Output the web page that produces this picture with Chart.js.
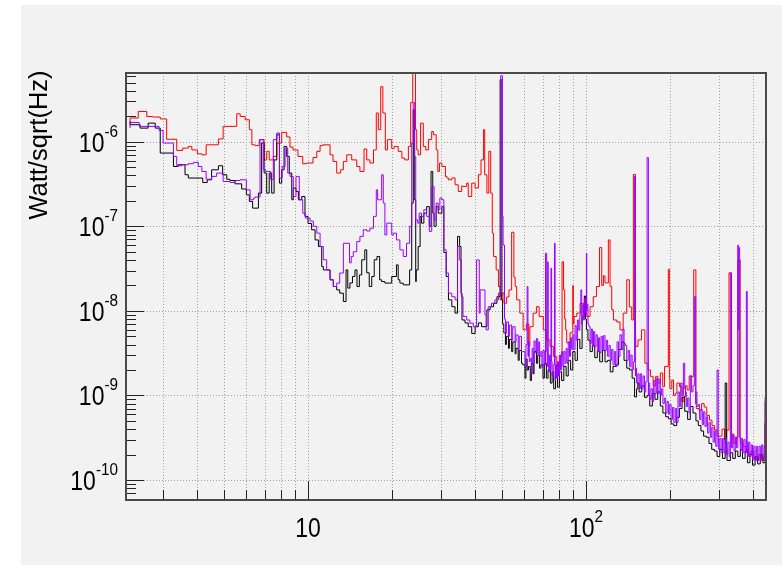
<!DOCTYPE html>
<html>
<head>
<meta charset="utf-8">
<script src="https://cdn.jsdelivr.net/npm/chart.js@4.4.1/dist/chart.umd.min.js"></script>
<style>
  html, body { margin: 0; padding: 0; background: #fff; }
  #wrap { position: relative; width: 782px; height: 570px; }
  #pad { position: absolute; left: 21px; top: 5px; width: 761px; height: 560px; background: #f2f2f2; }
  #spec { position: absolute; left: 0; top: 0; }
</style>
</head>
<body>
<div id="wrap">
  <div id="pad"></div>
  <canvas id="spec" width="782" height="570"></canvas>
</div>
<script>
// Spectra: [frequency (Hz), amplitude (Watt/sqrt(Hz))], read per bin group
const redPts = [
  [2.29,1.66e-6],[2.45,1.91e-6],[2.63,2.28e-6],[2.76,1.99e-6],[2.94,1.96e-6],[3.10,1.86e-6],[3.37,1.07e-6],[3.54,7.9e-7],
  [3.71,8.4e-7],[3.82,8.8e-7],[4.00,8.0e-7],[4.15,7.2e-7],[4.30,7.0e-7],[4.76,9.2e-7],[4.95,1.08e-6],[5.54,1.52e-6],
  [5.70,2.14e-6],[5.94,1.99e-6],[6.15,1.82e-6],[6.28,1.39e-6],[6.45,9.2e-7],[6.68,9.0e-7],[6.95,1.06e-6],[7.10,6.1e-7],
  [7.25,7.7e-7],[7.50,6.1e-7],[7.72,6.7e-7],[8.04,9.65e-7],[8.38,1.29e-6],[8.61,1.14e-6],[8.83,8.65e-7],[9.20,8.0e-7],
  [9.57,6.7e-7],[9.89,5.5e-7],[10.17,5.6e-7],[10.42,5.6e-7],[10.75,6.5e-7],[11.05,7.7e-7],[11.32,9.0e-7],[12.0,9.2e-7],
  [12.3,7.0e-7],[12.68,5.85e-7],[13.1,4.26e-7],[13.4,4.66e-7],[13.78,5.85e-7],[14.36,7.0e-7],[14.97,6.1e-7],[15.37,5.1e-7],
  [15.9,4.45e-7],[16.26,8.2e-7],[16.7,6.1e-7],[17.2,5.6e-7],[17.6,8.0e-7],[17.9,2.19e-6],[18.26,1.39e-6],[18.58,4.48e-6],
  [18.97,2.19e-6],[19.3,8.0e-7],[20.0,1.06e-6],[20.4,8.3e-7],[21.1,8.8e-7],[21.75,7.7e-7],[22.3,6.4e-7],[22.96,6.1e-7],
  [23.4,8.8e-7],[23.8,2.9e-6],[23.95,8.0e-6],[24.35,8.0e-6],[24.6,1.39e-6],[24.9,8.0e-7],[25.4,7.0e-7],[25.98,1.66e-6],
  [26.5,8.8e-7],[27.1,8.0e-7],[27.85,1.06e-6],[28.25,1.32e-6],[28.9,1.21e-6],[29.3,8.0e-7],[29.7,4.45e-7],[30.3,5.6e-7],
  [31.2,5.1e-7],[31.6,3.89e-7],[32.0,3.72e-7],[32.9,3.55e-7],[33.8,3.74e-7],[34.7,3.1e-7],[35.7,2.58e-7],[36.1,3.0e-7],
  [37.2,2.96e-7],[37.7,3.24e-7],[38.8,2.25e-7],[39.9,3.24e-7],[41.0,2.83e-7],[41.9,4.07e-7],[42.8,6.1e-7],[43.2,1.39e-6],
  [44.0,4.07e-7],[44.7,2.47e-7],[45.4,7.7e-7],[46.0,2.47e-7],[46.5,8.3e-8],[47.5,4.4e-8],[48.4,3.05e-8],[49.1,1.94e-8],
  [49.8,1.35e-8],[50.7,1.62e-8],[51.8,1.23e-8],[52.8,1.46e-8],[54.0,1.77e-8],[55.0,8.5e-8],[55.6,2.5e-8],[56.3,1.94e-8],
  [57.8,1.35e-8],[59.4,9.4e-9],[61.0,5.96e-9],[62.2,7.0e-9],[62.8,3.8e-9],[64.5,6.5e-9],[66.3,9.4e-9],[67.8,1.12e-8],
  [70.2,8.6e-9],[72.2,5.96e-9],[74.2,4.54e-9],[76.3,3.8e-9],[78.5,2.9e-9],[80.6,2.2e-9],[82.0,2.9e-9],[83.0,3.8e-8],
  [83.8,1.77e-8],[84.5,8.0e-9],[85.2,5.96e-9],[87.6,4.2e-9],[89.6,5.5e-9],[90.0,2.0e-8],[90.6,7.0e-9],[92.6,8.6e-9],
  [95.2,9.4e-9],[97.8,1.23e-8],[100.6,9.4e-9],[103.4,8.6e-9],[106.2,1.12e-8],[109.0,1.47e-8],[111.8,1.94e-8],[113.9,5.6e-8],
  [115.5,2.0e-8],[117.0,2.6e-8],[120.3,2.14e-8],[122.0,6.9e-8],[123.7,1.94e-8],[125.5,1.03e-8],[128.9,7.8e-9],[132.5,7.4e-9],
  [136.0,5.96e-9],[140.1,9.4e-9],[143.2,2.33e-8],[146.0,1.11e-8],[148.0,7.8e-9],[150.5,4.1e-7],[150.9,5.0e-9],[153.8,3.8e-9],
  [158.3,4.54e-9],[162.8,5.96e-9],[167.2,2.4e-9],[170.5,2.0e-9],[174.3,1.68e-9],[178.0,1.3e-9],[181.4,1.68e-9],[185.0,1.4e-9],
  [188.7,1.84e-9],[191.6,1.27e-9],[197.7,2.2e-9],[199.4,3.1e-8],[200.2,1.6e-9],[203.5,1.2e-9],[206.4,1.52e-9],[209.5,1.0e-9],
  [212.3,1.06e-9],[217.0,1.4e-9],[221.6,1.27e-9],[225.0,8.5e-10],[227.9,9.7e-10],[231.0,1.3e-9],[235.0,1.16e-9],[240.0,1.7e-9],
  [244.0,1.68e-9],[248.4,3.05e-8],[249.2,8.85e-10],[255.0,7.0e-10],[260.5,6.7e-10],[266.0,8.0e-10],[271.8,7.3e-10],[278.0,5.8e-10],
  [283.8,5.1e-10],[290.0,4.4e-10],[296.0,3.9e-10],[302.0,3.3e-10],[308.5,3.3e-10],[315.0,4.0e-10],[320.0,3.0e-10],[326.8,3.9e-10],
  [333.8,2.82e-8],[334.6,2.97e-10],[340.0,3.5e-10],[346.0,2.7e-10],[352.0,3.2e-10],[358.5,4.0e-8],[359.5,2.8e-10],[367.0,2.74e-10],
  [375.0,2.5e-10],[384.0,2.3e-10],[393.0,2.07e-10],[402.0,2.2e-10],[410.0,1.8e-10],[418.0,1.73e-10],[426.0,2.0e-10],[434.0,1.87e-10],
  [440.0,1.7e-10],[443.0,4.7e-10],[444.5,4.7e-10]
];

const purplePts = [
  [2.29,1.45e-6],[2.47,1.69e-6],[2.91,1.52e-6],[3.01,1.36e-6],[3.28,9.65e-7],[3.37,6.7e-7],[3.52,5.2e-7],[3.71,5.35e-7],
  [3.87,5.5e-7],[4.03,5.7e-7],[4.15,5.1e-7],[4.30,4.45e-7],[4.50,3.6e-7],[4.69,3.89e-7],[4.95,4.26e-7],[5.24,3.39e-7],
  [5.46,3.3e-7],[5.70,3.48e-7],[6.0,3.55e-7],[6.19,2.7e-7],[6.37,2.06e-7],[6.45,2.16e-7],[6.72,2.22e-7],[6.90,1.06e-6],
  [7.04,4.66e-7],[7.34,4.45e-7],[7.5,3.55e-7],[7.72,1.06e-6],[7.89,1.27e-6],[8.07,3.72e-7],[8.27,5.1e-7],[8.45,8.4e-7],
  [8.61,4.26e-7],[8.85,3.89e-7],[9.05,2.25e-7],[9.30,3.89e-7],[9.57,2.06e-7],[9.78,1.43e-7],[10.17,1.25e-7],[10.45,1.15e-7],
  [10.75,1.0e-7],[11.05,8.3e-8],[11.35,5.77e-8],[11.67,4.02e-8],[12.0,3.05e-8],[12.33,2.33e-8],[12.68,1.94e-8],[13.0,2.13e-8],
  [13.4,2.8e-8],[14.1,6.3e-8],[14.3,3.7e-8],[14.55,4.4e-8],[14.97,5.0e-8],[15.37,6.6e-8],[15.8,7.6e-8],[16.26,9.1e-8],
  [16.7,8.8e-8],[17.2,9.5e-8],[17.6,1.31e-7],[17.8,2.7e-7],[18.05,2.06e-7],[18.4,2.06e-7],[18.65,4.07e-7],[18.9,1.88e-7],
  [19.2,7.9e-8],[20.0,1.09e-7],[20.3,7.9e-8],[20.8,8.3e-8],[21.4,6.9e-8],[22.0,5.27e-8],[22.6,4.4e-8],[23.2,6.3e-8],
  [23.6,1.0e-7],[23.9,9.65e-7],[24.2,2.9e-6],[24.4,6.7e-7],[24.8,1.19e-7],[25.1,1.09e-7],[25.6,1.43e-7],[26.1,1.31e-7],
  [26.7,1.57e-7],[27.3,1.31e-7],[27.85,8.7e-8],[28.4,2.96e-7],[28.9,1.19e-7],[29.4,1.88e-7],[29.8,1.57e-7],[30.3,2.16e-7],
  [30.8,2.06e-7],[31.4,5.27e-8],[32.0,2.8e-8],[32.9,1.62e-8],[33.8,1.47e-8],[34.5,1.35e-8],[35.0,5.77e-8],[35.6,4.0e-8],
  [36.1,1.47e-8],[37.2,8.6e-9],[38.2,7.8e-9],[39.3,7.15e-9],[40.4,6.5e-9],[41.3,4.0e-8],[41.6,9.4e-9],[43.3,1.77e-8],
  [43.7,9.0e-9],[44.5,5.96e-9],[45.7,1.12e-8],[47.0,1.23e-8],[48.4,1.35e-8],[49.3,1.62e-8],[50.0,6.04e-6],[50.3,1.31e-7],
  [50.9,6.0e-8],[51.3,8.0e-9],[51.7,5.4e-9],[52.6,7.4e-9],[53.0,5.0e-9],[54.0,6.8e-9],[54.5,4.5e-9],[55.6,6.5e-9],
  [56.0,4.3e-9],[57.0,5.2e-9],[57.5,3.5e-9],[58.6,5.0e-9],[59.2,3.3e-9],[60.3,3.3e-9],[60.8,2.2e-9],[61.4,4.0e-9],
  [61.8,1.94e-8],[62.1,2.9e-9],[62.5,4.3e-9],[63.0,2.5e-9],[63.6,2.75e-9],[64.0,1.8e-9],[64.5,3.6e-9],[65.0,2.4e-9],
  [65.6,4.4e-9],[66.3,3.2e-9],[67.0,4.7e-9],[67.6,3.1e-9],[68.1,4.3e-9],[68.8,2.9e-9],[69.4,3.3e-9],[70.0,2.2e-9],
  [70.8,3.4e-9],[71.5,2.3e-9],[72.2,4.8e-8],[72.5,3.3e-9],[72.8,2.2e-9],[73.1,3.8e-8],[73.4,2.9e-9],[73.8,1.9e-9],
  [74.4,3.0e-9],[74.8,2.0e-9],[75.2,3.2e-8],[75.5,2.5e-9],[76.2,1.7e-9],[77.0,2.3e-9],[77.4,6.3e-8],[77.7,1.5e-9],
  [78.3,2.3e-9],[79.0,1.6e-9],[79.6,2.5e-9],[80.2,1.7e-9],[80.9,3.0e-9],[81.7,2.0e-9],[82.5,3.3e-9],[83.2,2.2e-9],
  [84.0,3.3e-9],[84.8,2.4e-9],[85.5,3.6e-9],[86.3,2.4e-9],[87.2,4.3e-9],[88.0,2.9e-9],[88.8,4.8e-9],[89.6,3.5e-9],
  [90.4,5.3e-9],[91.3,3.5e-9],[92.2,6.7e-9],[93.1,4.5e-9],[94.1,7.8e-9],[95.0,5.9e-9],[95.8,8.9e-9],[96.5,1.77e-8],
  [96.8,7.0e-9],[97.8,1.17e-8],[98.6,7.8e-9],[99.5,1.4e-8],[100.3,9.3e-9],[100.6,4.8e-8],[100.9,1.0e-8],[101.6,1.2e-8],
  [102.4,7.0e-9],[103.4,6.5e-9],[104.4,4.1e-9],[105.4,6.1e-9],[106.4,3.8e-9],[107.5,5.7e-9],[108.6,3.8e-9],[109.8,5.2e-9],
  [110.9,3.3e-9],[112.0,4.8e-9],[113.2,3.2e-9],[114.5,5.0e-9],[115.7,3.4e-9],[117.0,5.1e-9],[118.3,3.4e-9],[119.6,4.5e-9],
  [120.9,2.9e-9],[122.2,3.9e-9],[123.6,2.6e-9],[125.0,3.5e-9],[126.4,2.3e-9],[127.8,3.3e-9],[129.3,2.2e-9],[130.9,4.3e-9],
  [132.5,2.9e-9],[134.4,5.2e-9],[135.8,3.5e-9],[137.0,6.1e-9],[138.5,4.1e-9],[140.1,3.9e-9],[141.8,2.6e-9],[143.5,3.4e-9],
  [145.0,2.2e-9],[146.5,3.0e-9],[148.0,2.0e-9],[149.5,2.5e-9],[150.5,3.9e-7],[150.9,1.7e-9],[152.0,2.1e-9],[153.6,1.4e-9],
  [155.2,1.8e-9],[156.8,1.2e-9],[158.6,1.8e-9],[160.4,1.2e-9],[162.2,1.7e-9],[164.0,1.1e-9],[165.8,1.45e-9],[167.6,6.5e-7],
  [167.9,1.0e-9],[169.5,1.4e-9],[171.3,9.0e-10],[173.2,1.2e-9],[175.1,8.5e-10],[177.0,1.5e-9],[179.0,1.05e-9],[181.0,1.6e-9],
  [183.0,1.05e-9],[185.0,1.55e-9],[187.0,1.0e-9],[189.0,1.2e-9],[191.2,8.0e-10],[193.4,9.3e-10],[195.6,6.2e-10],[197.8,8.5e-10],
  [200.0,6.0e-10],[202.3,7.8e-10],[204.6,5.2e-10],[207.0,7.2e-10],[209.4,4.8e-10],[211.8,7.0e-10],[214.2,4.8e-10],[216.6,1.1e-9],
  [219.0,7.4e-10],[221.5,1.4e-9],[224.0,1.0e-9],[226.5,2.4e-9],[228.0,1.2e-9],[229.5,1.1e-9],[232.0,7.4e-10],[234.6,9.3e-10],
  [237.2,6.2e-10],[239.8,1.7e-9],[242.5,1.1e-9],[245.2,1.3e-9],[248.0,1.47e-8],[248.5,8.0e-10],[250.6,1.1e-9],[253.4,7.4e-10],
  [256.2,7.8e-10],[259.0,5.2e-10],[261.9,6.8e-10],[264.8,4.5e-10],[267.8,6.4e-10],[270.8,4.3e-10],[273.8,5.6e-10],[276.9,3.6e-10],
  [280.0,4.8e-10],[283.2,3.2e-10],[286.4,4.2e-10],[289.6,2.8e-10],[292.8,3.8e-10],[296.0,2.5e-10],[299.0,2.0e-9],[299.8,3.4e-10],
  [302.8,2.3e-10],[306.2,3.1e-10],[309.6,2.1e-10],[313.1,3.1e-10],[316.6,2.1e-10],[320.1,3.1e-10],[323.7,2.0e-10],[327.3,2.8e-10],
  [330.5,1.9e-10],[333.0,2.8e-8],[333.6,3.5e-10],[337.0,2.4e-10],[340.6,3.4e-10],[344.3,2.2e-10],[348.0,3.2e-10],[351.5,2.4e-10],
  [353.0,6.0e-8],[354.5,6.0e-9],[357.0,5.6e-8],[359.0,3.2e-10],[361.6,2.2e-10],[365.5,3.1e-10],[369.4,2.1e-10],[373.4,3.0e-10],
  [377.4,2.1e-10],[380.0,1.7e-8],[380.7,2.8e-10],[384.5,1.9e-10],[388.6,2.8e-10],[392.8,1.9e-10],[397.0,2.6e-10],[401.3,1.75e-10],
  [405.6,2.5e-10],[410.0,1.7e-10],[414.5,2.5e-10],[419.0,1.7e-10],[423.5,2.5e-10],[428.0,1.7e-10],[432.6,2.6e-10],[437.2,1.8e-10],
  [441.0,2.5e-10],[443.0,9.6e-10],[444.5,9.6e-10]
];

const blackPts = [
  [2.29,1.74e-6],[2.49,1.59e-6],[2.66,1.45e-6],[2.82,1.66e-6],[2.94,1.45e-6],[3.28,7.35e-7],[3.41,5.1e-7],[3.61,5.35e-7],
  [3.71,4.07e-7],[4.18,3.72e-7],[4.34,3.3e-7],[4.50,3.55e-7],[4.76,4.66e-7],[4.93,5.2e-7],[5.1,4.07e-7],[5.24,3.6e-7],
  [5.46,3.48e-7],[5.77,3.18e-7],[6.0,2.76e-7],[6.15,2.36e-7],[6.32,1.97e-7],[6.63,1.64e-7],[6.81,2.47e-7],[6.95,9.65e-7],
  [7.10,4.26e-7],[7.25,2.47e-7],[7.4,4.26e-7],[7.55,2.47e-7],[7.72,6.1e-7],[7.89,1.21e-6],[8.04,3.24e-7],[8.2,4.66e-7],
  [8.38,8.8e-7],[8.56,6.7e-7],[8.74,4.26e-7],[8.85,2.06e-7],[9.05,2.83e-7],[9.23,2.58e-7],[9.49,2.06e-7],[9.75,2.25e-7],
  [10.0,1.31e-7],[10.3,1.08e-7],[10.6,9.1e-8],[10.9,6.9e-8],[11.2,5.77e-8],[11.35,3.34e-8],[12.0,3.05e-8],[12.33,2.33e-8],
  [12.68,1.94e-8],[13.0,1.77e-8],[13.4,1.62e-8],[13.7,1.29e-8],[13.9,3.05e-8],[14.15,1.86e-8],[14.45,2.14e-8],[14.75,2.55e-8],
  [15.0,3.05e-8],[15.3,1.94e-8],[15.6,2.66e-8],[16.0,4.02e-8],[16.26,5.27e-8],[16.6,2.82e-8],[16.95,1.94e-8],[17.3,2.55e-8],
  [17.7,4.02e-8],[18.1,4.4e-8],[18.4,2.33e-8],[18.9,2.22e-8],[20.0,2.13e-8],[20.8,2.55e-8],[21.1,3.5e-8],[21.4,2.33e-8],
  [22.0,2.13e-8],[23.2,2.03e-8],[23.6,3.05e-8],[23.9,1.88e-7],[24.1,2.39e-6],[24.4,2.06e-7],[24.5,2.22e-8],[24.9,3.05e-8],
  [25.3,5.77e-8],[25.6,1.31e-7],[26.1,1.09e-7],[26.7,1.43e-7],[27.3,1.71e-7],[27.7,1.0e-7],[28.1,4.45e-7],[28.4,1.43e-7],
  [28.9,1.0e-7],[29.4,1.71e-7],[30.3,1.43e-7],[30.8,1.71e-7],[31.4,4.9e-8],[32.0,2.55e-8],[32.9,1.35e-8],[33.8,1.12e-8],
  [34.5,9.4e-9],[35.1,7.6e-8],[35.5,5.77e-8],[35.8,1.62e-8],[36.7,7.8e-9],[37.7,7.2e-9],[38.8,6.5e-9],[39.9,5.4e-9],
  [41.0,6.5e-9],[42.1,7.2e-9],[44.0,6.5e-9],[45.2,1.03e-8],[46.5,1.12e-8],[47.8,1.23e-8],[49.1,1.47e-8],[49.8,5.4e-6],
  [50.1,1.35e-8],[50.6,7.0e-9],[51.3,5.5e-9],[51.7,4.0e-9],[52.6,5.0e-9],[53.0,3.6e-9],[54.0,4.6e-9],[54.5,3.3e-9],
  [55.6,4.3e-9],[56.0,3.1e-9],[57.0,3.6e-9],[57.5,2.6e-9],[58.6,3.4e-9],[59.2,2.4e-9],[60.3,2.3e-9],[60.8,1.6e-9],
  [61.4,2.7e-9],[62.1,2.0e-9],[63.0,2.2e-9],[63.6,1.5e-9],[64.5,2.4e-9],[65.0,1.8e-9],[66.3,3.3e-9],[67.0,2.4e-9],
  [68.1,3.0e-9],[68.8,2.1e-9],[70.0,2.3e-9],[70.8,1.6e-9],[72.0,2.4e-9],[73.0,1.6e-9],[74.4,2.0e-9],[75.5,1.4e-9],
  [76.5,1.9e-9],[77.7,1.2e-9],[79.0,1.7e-9],[80.2,1.25e-9],[81.7,1.9e-9],[83.2,1.5e-9],[84.8,2.2e-9],[86.3,1.7e-9],
  [88.0,2.6e-9],[89.6,2.0e-9],[91.3,3.3e-9],[93.1,2.6e-9],[95.0,4.6e-9],[96.8,3.6e-9],[98.6,8.5e-9],[99.5,1.5e-8],
  [100.3,8.0e-9],[101.6,6.0e-9],[103.4,4.5e-9],[105.4,3.3e-9],[107.5,3.9e-9],[109.8,2.8e-9],[112.0,3.3e-9],[114.5,2.5e-9],
  [117.0,3.4e-9],[119.6,2.5e-9],[122.2,2.6e-9],[125.0,1.9e-9],[127.8,2.2e-9],[130.9,2.3e-9],[134.4,3.5e-9],[137.0,4.3e-9],
  [140.1,2.6e-9],[143.5,2.1e-9],[146.5,2.0e-9],[149.5,1.6e-9],[152.0,9.6e-10],[153.6,1.2e-9],[155.2,1.4e-9],[158.6,1.1e-9],
  [162.2,1.3e-9],[165.8,9.5e-10],[169.5,1.0e-9],[173.2,7.5e-10],[177.0,1.05e-9],[181.0,9.0e-10],[185.0,1.1e-9],[189.0,7.5e-10],
  [193.4,6.2e-10],[197.8,5.6e-10],[202.3,5.3e-10],[207.0,4.6e-10],[211.8,4.4e-10],[216.6,5.5e-10],[221.5,7.0e-10],[226.5,9.5e-10],
  [232.0,6.5e-10],[237.2,5.2e-10],[242.5,7.4e-10],[248.5,6.2e-10],[253.4,5.0e-10],[259.0,4.4e-10],[264.8,3.8e-10],[270.8,3.3e-10],
  [276.9,3.2e-10],[283.2,2.7e-10],[289.6,2.3e-10],[296.0,2.2e-10],[302.8,1.9e-10],[309.6,2.3e-10],[316.6,1.8e-10],[320.7,1.4e-9],
  [321.5,2.3e-10],[330.5,1.7e-10],[337.0,2.1e-10],[344.3,1.8e-10],[351.5,2.2e-10],[359.0,1.9e-10],[365.5,2.3e-10],[373.4,1.8e-10],
  [380.7,2.2e-10],[388.6,1.6e-10],[397.0,2.0e-10],[405.6,1.5e-10],[414.5,1.9e-10],[423.5,1.55e-10],[432.6,2.0e-10],[441.0,1.6e-10],
  [443.0,8.5e-10],[444.5,8.5e-10]
];

// axis ranges, ticks and labels
const xRange = [2.214, 444];
const yRange = [5.8e-11, 6.5e-6];
const xMajor = [10, 100];
const xMajorExp = ['', '2'];
const xMinor = [3, 4, 5, 6, 7, 8, 9, 20, 30, 40, 50, 60, 70, 80, 90, 200, 300, 400];
const yMajor = [1e-10, 1e-9, 1e-8, 1e-7, 1e-6];
const yMajorExp = ['-10', '-9', '-8', '-7', '-6'];
const yMinor = [
  6e-11, 7e-11, 8e-11, 9e-11,
  2e-10, 3e-10, 4e-10, 5e-10, 6e-10, 7e-10, 8e-10, 9e-10,
  2e-9, 3e-9, 4e-9, 5e-9, 6e-9, 7e-9, 8e-9, 9e-9,
  2e-8, 3e-8, 4e-8, 5e-8, 6e-8, 7e-8, 8e-8, 9e-8,
  2e-7, 3e-7, 4e-7, 5e-7, 6e-7, 7e-7, 8e-7, 9e-7,
  2e-6, 3e-6, 4e-6, 5e-6, 6e-6
];
const yTitle = 'Watt/sqrt(Hz)';

const FONT = '"Liberation Sans", Arial, Helvetica, sans-serif';

function toXY(pts) { return pts.map(p => ({ x: p[0], y: p[1] })); }

// "10" with a superscript exponent, squeezed like the ROOT text
function powLabel(ctx, exp, x, baseline, align) {
  const sx = 0.82;
  ctx.font = '28px ' + FONT;
  const wb = ctx.measureText('10').width * sx;
  ctx.font = '17px ' + FONT;
  const we = exp ? ctx.measureText(exp).width * 0.9 : 0;
  const left = align === 'right' ? x - wb - we : x - (wb + we) / 2;
  ctx.save();
  ctx.translate(left, baseline);
  ctx.scale(sx, 1);
  ctx.font = '28px ' + FONT;
  ctx.fillText('10', 0, 0);
  ctx.restore();
  if (exp) {
    ctx.save();
    ctx.translate(left + wb, baseline - 15);
    ctx.scale(0.9, 1);
    ctx.font = '17px ' + FONT;
    ctx.fillText(exp, 0, 0);
    ctx.restore();
  }
}

const rootFrame = {
  id: 'rootFrame',
  beforeDatasetsDraw(chart) {
    const { ctx, chartArea: a, scales: { x, y } } = chart;
    ctx.save();
    ctx.strokeStyle = '#a0a0a0';
    ctx.lineWidth = 1;
    ctx.setLineDash([1, 2]);
    ctx.beginPath();
    [...xMinor, ...xMajor].forEach(v => {
      const px = Math.round(x.getPixelForValue(v)) + 0.5;
      ctx.moveTo(px, a.top); ctx.lineTo(px, a.bottom);
    });
    yMajor.forEach(v => {
      const py = Math.round(y.getPixelForValue(v)) + 0.5;
      ctx.moveTo(a.left, py); ctx.lineTo(a.right, py);
    });
    ctx.stroke();
    ctx.restore();
  },
  afterDatasetsDraw(chart) {
    const { ctx, chartArea: a, scales: { x, y } } = chart;
    ctx.save();
    // tick marks
    ctx.strokeStyle = '#222';
    ctx.lineWidth = 1;
    ctx.beginPath();
    xMinor.forEach(v => {
      const px = Math.round(x.getPixelForValue(v)) + 0.5;
      ctx.moveTo(px, a.bottom); ctx.lineTo(px, a.bottom - 10);
    });
    xMajor.forEach(v => {
      const px = Math.round(x.getPixelForValue(v)) + 0.5;
      ctx.moveTo(px, a.bottom); ctx.lineTo(px, a.bottom - 19);
    });
    yMinor.forEach(v => {
      const py = Math.round(y.getPixelForValue(v)) + 0.5;
      ctx.moveTo(a.left, py); ctx.lineTo(a.left + 10, py);
    });
    yMajor.forEach(v => {
      const py = Math.round(y.getPixelForValue(v)) + 0.5;
      ctx.moveTo(a.left, py); ctx.lineTo(a.left + 18, py);
    });
    ctx.stroke();

    // frame
    ctx.strokeStyle = '#4a4a4a';
    ctx.lineWidth = 2;
    ctx.strokeRect(a.left, a.top, a.right - a.left, a.bottom - a.top);

    // labels
    ctx.fillStyle = '#000';
    ctx.textBaseline = 'alphabetic';
    ctx.textAlign = 'left';
    yMajor.forEach((v, i) => {
      powLabel(ctx, yMajorExp[i], a.left - 8, y.getPixelForValue(v) + 10, 'right');
    });
    xMajor.forEach((v, i) => {
      powLabel(ctx, xMajorExp[i], x.getPixelForValue(v), a.bottom + 37, 'center');
    });

    ctx.save();
    ctx.translate(47, 145);
    ctx.rotate(-Math.PI / 2);
    ctx.textAlign = 'center';
    ctx.font = '25.5px ' + FONT;
    ctx.fillText(yTitle, 0, 0);
    ctx.restore();
    ctx.restore();
  }
};

const line = (pts, color, order) => ({
  data: toXY(pts),
  borderColor: color,
  borderWidth: 1,
  stepped: 'after',
  pointRadius: 0,
  fill: false,
  order
});

new Chart(document.getElementById('spec'), {
  type: 'line',
  data: {
    datasets: [
      line(purplePts, '#9900ff', 0),
      line(blackPts, '#000000', 1),
      line(redPts, '#ff0000', 2)
    ]
  },
  options: {
    responsive: false,
    animation: false,
    layout: { padding: { left: 126, top: 73, right: 16, bottom: 70 } },
    plugins: { legend: { display: false }, tooltip: { enabled: false } },
    scales: {
      x: { type: 'logarithmic', min: xRange[0], max: xRange[1], display: false },
      y: { type: 'logarithmic', min: yRange[0], max: yRange[1], display: false }
    }
  },
  plugins: [rootFrame]
});
</script>
</body>
</html>
